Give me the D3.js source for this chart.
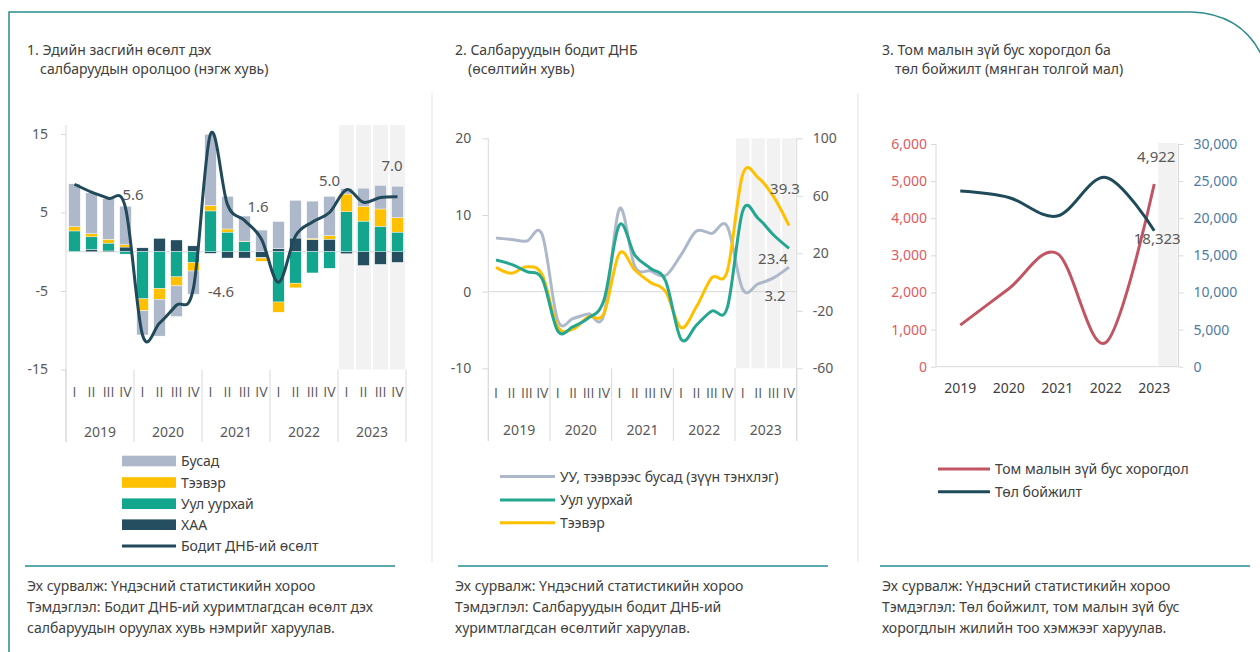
<!DOCTYPE html>
<html>
<head>
<meta charset="utf-8">
<script src="https://cdn.jsdelivr.net/npm/d3@7"></script>
<style>
  body { margin: 0; background: #fff; }
  svg { display: block; font-family: "Noto Sans", sans-serif; }
</style>
</head>
<body>
<svg width="1260" height="652"></svg>
<script>
const years = ["2019", "2020", "2021", "2022", "2023"];
const quarters = ["I", "II", "III", "IV"];

// 1. contributions to growth, percentage points
const agri = [0.05, 0.3, 0.1, 0.6, 0.5, 1.7, 1.5, 0.75, -0.2, -0.8, -0.8, -0.75, 0.4, 1.75, 1.55, 1.6, -0.25, -1.75, -1.6, -1.35];
const mining = [2.6, 1.6, 1.0, -0.3, -6.0, -4.7, -3.2, -1.4, 5.2, 2.5, 1.3, -0.05, -6.4, -4.0, -2.7, -2.1, 5.1, 3.9, 3.25, 2.5];
const transport = [0.55, 0.4, 0.5, 0.3, -1.5, -1.35, -1.15, -1.05, 0.7, 0.4, 0.05, -0.4, -1.3, -0.6, 0.15, 0.45, 2.25, 1.85, 2.2, 1.85];
const other = [5.45, 5.2, 5.15, 4.9, -3.1, -4.7, -3.9, -2.95, 9.05, 4.15, 3.2, 2.76, 3.45, 4.8, 4.75, 5.0, 0.72, 2.35, 3.0, 4.0];
const gdpGrowth = [8.6, 7.6, 6.8, 5.6, -10.6, -9.1, -6.8, -4.6, 15.0, 6.0, 4.0, 1.6, -3.9, 2.0, 3.8, 5.0, 7.9, 6.3, 6.9, 7.0];
const gdpLabelIdx = [3, 7, 11, 15, 19];

// 2. real growth by sector, %
const otherReal = [7.0, 6.8, 6.6, 7.4, -3.7, -3.5, -2.9, -3.0, 10.8, 3.3, 2.7, 2.1, 4.8, 7.9, 7.6, 8.5, 0.3, 1.0, 1.8, 3.2];
const miningReal = [15.3, 12.3, 7.2, 2.1, -34, -31, -25, -12.5, 39.7, 18.8, 9.6, 0.7, -39.8, -29.9, -20.1, -17.8, 49.5, 44.3, 32.7, 23.4];
const transportReal = [10.2, 6.1, 10.7, 4.9, -31, -32.7, -24.1, -21.8, 20, 8.4, -0.2, -6.7, -31.7, -17.1, 3.1, 7.7, 75, 72.6, 59.4, 39.3];

// 3. livestock, thousand heads
const losses = [1120, 2100, 3050, 650, 4922];
const offspring = [23660, 22800, 20300, 25500, 18323];

const legend1 = ["Бусад", "Тээвэр", "Уул уурхай", "ХАА", "Бодит ДНБ-ий өсөлт"];
const legend2 = ["УУ, тээврээс бусад (зүүн тэнхлэг)", "Уул уурхай", "Тээвэр"];
const legend3 = ["Том малын зүй бус хорогдол", "Төл бойжилт"];

const titles = [
  ["1. Эдийн засгийн өсөлт дэх", "салбаруудын оролцоо (нэгж хувь)"],
  ["2. Салбаруудын бодит ДНБ", "(өсөлтийн хувь)"],
  ["3. Том малын зүй бус хорогдол ба", "төл бойжилт (мянган толгой мал)"]
];
const notes = [
  ["Эх сурвалж: Үндэсний статистикийн хороо", "Тэмдэглэл: Бодит ДНБ-ий хуримтлагдсан өсөлт дэх", "салбаруудын оруулах хувь нэмрийг харуулав."],
  ["Эх сурвалж: Үндэсний статистикийн хороо", "Тэмдэглэл: Салбаруудын бодит ДНБ-ий", "хуримтлагдсан өсөлтийг харуулав."],
  ["Эх сурвалж: Үндэсний статистикийн хороо", "Тэмдэглэл: Төл бойжилт, том малын зүй бус", "хорогдлын жилийн тоо хэмжээг харуулав."]
];

const C = {
  other: "#adb9ca", transport: "#ffc000", mining: "#12a68f", agri: "#254f60",
  gdp: "#22495a", green: "#25a690", red: "#c25563", navy: "#1f4a5a",
  axis: "#d9d9d9", text: "#595959", title: "#404040", teal: "#2b8a8c"
};

const svg = d3.select("svg");
const periods = years.flatMap((y) => quarters.map((q) => y + "-" + q));
const smooth = d3.curveCatmullRom.alpha(0);
const plain = (d) => String(d);
const oneDec = (d) => d.toFixed(1);

// frame, separators, titles, notes
svg.append("path")
  .attr("d", "M9,660 V12 H1192 Q1243,14 1263,58")
  .attr("fill", "none").attr("stroke", C.teal).attr("stroke-width", 1.5);
[432, 858].forEach((x) => {
  svg.append("line").attr("x1", x).attr("x2", x).attr("y1", 93).attr("y2", 562)
    .attr("stroke", "#e3e3e3");
});
const panelX = [27, 455, 882];
titles.forEach((t, i) => {
  svg.append("text").attr("x", panelX[i]).attr("y", 55).text(t[0])
    .attr("font-size", 14).attr("fill", C.title);
  svg.append("text").attr("x", panelX[i] + 13).attr("y", 74).text(t[1])
    .attr("font-size", 14).attr("fill", C.title);
});
const noteLines = [[25, 395], [458, 828], [880, 1250]];
notes.forEach((n, i) => {
  svg.append("line").attr("x1", noteLines[i][0]).attr("x2", noteLines[i][1])
    .attr("y1", 566).attr("y2", 566).attr("stroke", "#5aa9ac").attr("stroke-width", 2);
  n.forEach((s, j) => {
    svg.append("text").attr("x", panelX[i]).attr("y", 591 + j * 21).text(s)
      .attr("font-size", 14).attr("fill", C.title);
  });
});

function styleAxis(g, color) {
  g.select(".domain").remove();
  g.selectAll(".tick line").attr("stroke", C.axis);
  g.selectAll(".tick text").attr("fill", color || C.text).attr("font-size", 14)
    .attr("font-family", "Noto Sans");
}

function quarterAxis(g, x, left, right, yTop, yBot, qy, yy) {
  const bw = x.bandwidth();
  years.forEach((yr, k) => {
    g.append("line").attr("x1", left + k * 4 * bw).attr("x2", left + k * 4 * bw)
      .attr("y1", yTop).attr("y2", yBot).attr("stroke", C.axis);
    g.append("text").attr("x", left + (k * 4 + 2) * bw).attr("y", yy)
      .attr("text-anchor", "middle").attr("font-size", 14).attr("fill", C.text).text(yr);
  });
  g.append("line").attr("x1", right).attr("x2", right)
    .attr("y1", yTop).attr("y2", yBot).attr("stroke", C.axis);
  g.selectAll(".q").data(periods).enter().append("text")
    .attr("x", (d) => x(d) + bw / 2).attr("y", qy)
    .attr("text-anchor", "middle").attr("font-size", 14).attr("fill", C.text)
    .attr("font-family", "Open Sans")
    .text((d) => d.split("-")[1]);
}

// ---------- panel 1 ----------
const g1 = svg.append("g");
const x1 = d3.scaleBand().domain(periods).range([66, 406]);
const y1 = d3.scaleLinear().domain([-15, 15]).range([369.5, 134]);
const bw1 = x1.bandwidth();

g1.selectAll(".shade").data(periods.filter((p) => p.startsWith("2023"))).enter()
  .append("rect").attr("x", (d) => x1(d) + 1).attr("width", bw1 - 2)
  .attr("y", 125).attr("height", 369.5 - 125).attr("fill", "#f2f2f2");

g1.append("line").attr("x1", 66).attr("x2", 406).attr("y1", y1(0)).attr("y2", y1(0))
  .attr("stroke", C.axis);

const rows1 = periods.map((p, i) => ({
  period: p, agri: agri[i], mining: mining[i], transport: transport[i], other: other[i]
}));
const keys1 = ["agri", "mining", "transport", "other"];
const series1 = d3.stack().keys(keys1).offset(d3.stackOffsetDiverging)(rows1);
const barW1 = 11.5;

g1.selectAll(".series").data(series1).enter().append("g")
  .attr("fill", (s) => C[s.key])
  .selectAll("rect").data((s) => s).enter().append("rect")
  .attr("x", (d) => x1(d.data.period) + (bw1 - barW1) / 2)
  .attr("width", barW1)
  .attr("y", (d) => y1(Math.max(d[0], d[1])))
  .attr("height", (d) => Math.abs(y1(d[0]) - y1(d[1])))
  .attr("stroke", "#fff").attr("stroke-width", 0.4);

const yAxis1 = g1.append("g").attr("transform", "translate(66,0)")
  .call(d3.axisLeft(y1).tickValues([-15, -5, 5, 15]).tickSize(5).tickPadding(13).tickFormat(plain));
styleAxis(yAxis1);
g1.append("line").attr("x1", 66).attr("x2", 66).attr("y1", 125).attr("y2", 442)
  .attr("stroke", C.axis);
quarterAxis(g1, x1, 66, 406, 369.5, 442, 397, 437);

const gdpLine = d3.line()
  .x((d, i) => x1(periods[i]) + bw1 / 2)
  .y((d) => y1(d))
  .curve(smooth);
g1.append("path").datum(gdpGrowth).attr("d", gdpLine)
  .attr("fill", "none").attr("stroke", C.gdp).attr("stroke-width", 3);

const off1 = [[7.5, -13], [27.5, 4], [-3.5, -33], [0, -32.5], [-5.5, -31]];
gdpLabelIdx.forEach((idx, k) => {
  g1.append("text")
    .attr("x", x1(periods[idx]) + bw1 / 2 + off1[k][0])
    .attr("y", y1(gdpGrowth[idx]) + off1[k][1] + 5.5)
    .attr("text-anchor", "middle").attr("font-size", 15).attr("fill", C.text)
    .text(oneDec(gdpGrowth[idx]));
});

// legend 1
const legColors1 = [C.other, C.transport, C.mining, C.agri];
const legY1 = [461, 482.5, 503.7, 524.7, 546];
legend1.forEach((name, i) => {
  if (i < 4) {
    svg.append("rect").attr("x", 122).attr("y", legY1[i] - 5.3).attr("width", 54)
      .attr("height", 10.6).attr("fill", legColors1[i]);
  } else {
    svg.append("line").attr("x1", 122).attr("x2", 176).attr("y1", legY1[i]).attr("y2", legY1[i])
      .attr("stroke", C.gdp).attr("stroke-width", 3);
  }
  svg.append("text").attr("x", 181).attr("y", legY1[i] + 5).text(name)
    .attr("font-size", 14).attr("fill", C.title);
});

// ---------- panel 2 ----------
const g2 = svg.append("g");
const x2 = d3.scaleBand().domain(periods).range([488.3, 796.7]);
const bw2 = x2.bandwidth();
const y2L = d3.scaleLinear().domain([-10, 20]).range([368.3, 138.3]);
const y2R = d3.scaleLinear().domain([-60, 100]).range([368.3, 138.3]);

g2.selectAll(".shade").data(periods.filter((p) => p.startsWith("2023"))).enter()
  .append("rect").attr("x", (d) => x2(d) + 1).attr("width", bw2 - 2)
  .attr("y", 138.3).attr("height", 368.3 - 138.3).attr("fill", "#f2f2f2");

g2.append("line").attr("x1", 488.3).attr("x2", 796.7).attr("y1", y2L(0)).attr("y2", y2L(0))
  .attr("stroke", C.axis);

const yAxis2L = g2.append("g").attr("transform", "translate(488.3,0)")
  .call(d3.axisLeft(y2L).tickValues([-10, 0, 10, 20]).tickSize(6).tickPadding(11).tickFormat(plain));
styleAxis(yAxis2L);
const yAxis2R = g2.append("g").attr("transform", "translate(796.7,0)")
  .call(d3.axisRight(y2R).tickValues([-60, -20, 20, 60, 100]).tickSize(6).tickPadding(10).tickFormat(plain));
styleAxis(yAxis2R);
g2.append("line").attr("x1", 488.3).attr("x2", 488.3).attr("y1", 138.3).attr("y2", 441)
  .attr("stroke", C.axis);
g2.append("line").attr("x1", 796.7).attr("x2", 796.7).attr("y1", 138.3).attr("y2", 441)
  .attr("stroke", C.axis);
quarterAxis(g2, x2, 488.3, 796.7, 368.3, 441, 398, 435);

const lines2 = [
  { data: otherReal, y: y2L, color: C.other },
  { data: transportReal, y: y2R, color: C.transport },
  { data: miningReal, y: y2R, color: C.green }
];
lines2.forEach((s) => {
  const ln = d3.line().x((d, i) => x2(periods[i]) + bw2 / 2).y((d) => s.y(d)).curve(smooth);
  g2.append("path").datum(s.data).attr("d", ln)
    .attr("fill", "none").attr("stroke", s.color).attr("stroke-width", 3);
});

const last = periods.length - 1;
const xEnd2 = x2(periods[last]) + bw2 / 2;
[
  [transportReal[last], y2R, -4, -37],
  [miningReal[last], y2R, -16, 10],
  [otherReal[last], y2L, -14, 28]
].forEach(([v, sc, dx, dy]) => {
  g2.append("text").attr("x", xEnd2 + dx).attr("y", sc(v) + dy + 5.5)
    .attr("text-anchor", "middle").attr("font-size", 15).attr("fill", C.text)
    .text(oneDec(v));
});

const legColors2 = [C.other, C.green, C.transport];
const legY2 = [476.5, 500, 522.7];
legend2.forEach((name, i) => {
  svg.append("line").attr("x1", 500).attr("x2", 555).attr("y1", legY2[i]).attr("y2", legY2[i])
    .attr("stroke", legColors2[i]).attr("stroke-width", 3);
  svg.append("text").attr("x", 560).attr("y", legY2[i] + 5).text(name)
    .attr("font-size", 14).attr("fill", C.title);
});

// ---------- panel 3 ----------
const g3 = svg.append("g");
const x3 = d3.scaleBand().domain(years).range([936, 1178.5]);
const bw3 = x3.bandwidth();
const y3L = d3.scaleLinear().domain([0, 6000]).range([366.7, 144]);
const y3R = d3.scaleLinear().domain([0, 30000]).range([366.7, 144]);

g3.append("rect").attr("x", x3("2023") + bw3 / 2 + 4).attr("width", bw3 / 2 - 5)
  .attr("y", 143).attr("height", 366.7 - 143).attr("fill", "#f2f2f2");

const yAxis3L = g3.append("g").attr("transform", "translate(936,0)")
  .call(d3.axisLeft(y3L).tickValues(d3.range(0, 6001, 1000)).tickSize(5).tickPadding(4)
    .tickFormat(d3.format(",")));
styleAxis(yAxis3L, "#e05a5e");
const yAxis3R = g3.append("g").attr("transform", "translate(1178.5,0)")
  .call(d3.axisRight(y3R).tickValues(d3.range(0, 30001, 5000)).tickSize(5).tickPadding(10)
    .tickFormat(d3.format(",")));
styleAxis(yAxis3R, "#4f7ba3");
g3.append("line").attr("x1", 936).attr("x2", 936).attr("y1", 144).attr("y2", 366.7)
  .attr("stroke", C.axis);
g3.append("line").attr("x1", 1178.5).attr("x2", 1178.5).attr("y1", 144).attr("y2", 366.7)
  .attr("stroke", C.axis);
g3.append("line").attr("x1", 936).attr("x2", 1178.5).attr("y1", 366.7).attr("y2", 366.7)
  .attr("stroke", C.axis);

g3.selectAll(".yr").data(years).enter().append("text")
  .attr("x", (d) => x3(d) + bw3 / 2).attr("y", 393)
  .attr("text-anchor", "middle").attr("font-size", 14).attr("fill", C.title).text((d) => d);

const lines3 = [
  { data: losses, y: y3L, color: C.red },
  { data: offspring, y: y3R, color: C.navy }
];
lines3.forEach((s) => {
  const ln = d3.line().x((d, i) => x3(years[i]) + bw3 / 2).y((d) => s.y(d)).curve(smooth);
  g3.append("path").datum(s.data).attr("d", ln)
    .attr("fill", "none").attr("stroke", s.color).attr("stroke-width", 3);
});

const xEnd3 = x3("2023") + bw3 / 2;
[
  [losses[4], y3L, 2, -28],
  [offspring[4], y3R, 3, 8]
].forEach(([v, sc, dx, dy]) => {
  g3.append("text").attr("x", xEnd3 + dx).attr("y", sc(v) + dy + 5.5)
    .attr("text-anchor", "middle").attr("font-size", 15).attr("fill", C.text)
    .text(d3.format(",")(v));
});

const legColors3 = [C.red, C.navy];
const legY3 = [469, 491.7];
legend3.forEach((name, i) => {
  svg.append("line").attr("x1", 938).attr("x2", 990).attr("y1", legY3[i]).attr("y2", legY3[i])
    .attr("stroke", legColors3[i]).attr("stroke-width", 3);
  svg.append("text").attr("x", 995).attr("y", legY3[i] + 5).text(name)
    .attr("font-size", 14).attr("fill", C.title);
});
</script>
</body>
</html>
